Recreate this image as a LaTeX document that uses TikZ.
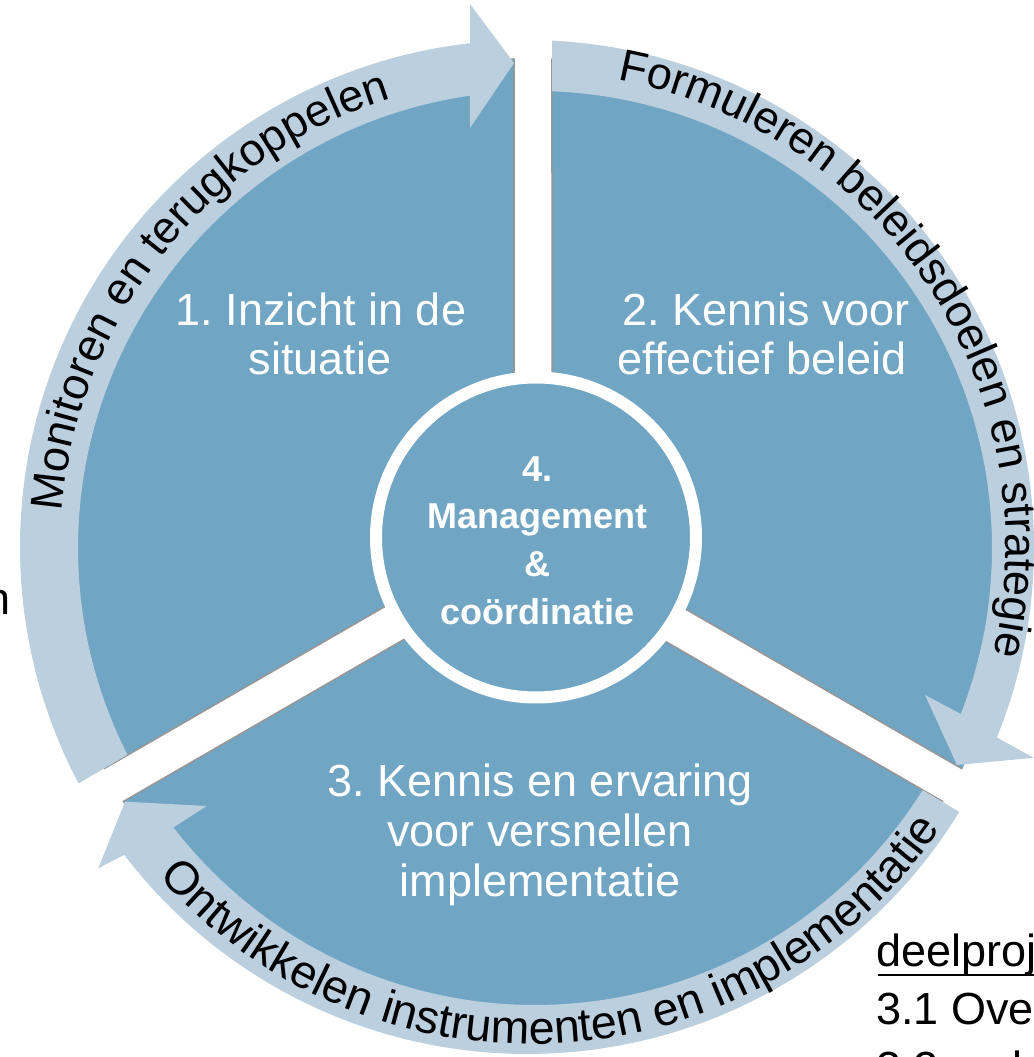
\documentclass[tikz,border=0pt]{standalone}
\usepackage{fontspec}
\setmainfont{Liberation Sans}
\usetikzlibrary{calc,decorations.text}
\definecolor{secblue}{RGB}{113,165,196}
\definecolor{bandblue}{RGB}{188,207,223}
\definecolor{edgegray}{RGB}{150,150,150}
\newcommand{\arcfont}{\fontsize{45}{54}\selectfont}
\newcommand{\arcfontb}{\fontsize{46.5}{54}\selectfont}
\frenchspacing
\begin{document}
\begin{tikzpicture}[x=1pt,y=1pt,
  sector/.style={fill=secblue},
  band/.style={fill=bandblue},
  secedge/.style={draw=edgegray,line width=1.5pt},
  seclabel/.style={text=white,font=\fontsize{45}{50}\selectfont,inner sep=0pt,anchor=base},
  midlabel/.style={text=white,font=\bfseries\fontsize{36}{44}\selectfont,inner sep=0pt,anchor=base},
  sidetext/.style={text=black,font=\fontsize{45}{54}\selectfont,inner sep=0pt},
  arctext/.style={decorate,decoration={text along path,text align=center,text={|\arcfont|#1}}},
  arctextb/.style={decorate,decoration={text along path,text align=center,text={|\arcfontb|#1}}}
]
\useasboundingbox (0,0) rectangle (1033,1057);
\begin{scope}[shift={(0,1057)}]
\coordinate (C) at (533,-543);
\coordinate (Ci) at (535,-548);
\coordinate (Co) at (527,-547);
\coordinate (Cm) at (531,-547);
\coordinate (Cc) at (536,-537.5);
% sectors
\fill[sector] ($(C)+(150:21.94)$) coordinate (A1) -- ($(C)+(92.245:485)$) coordinate (P1a)
  arc[start angle=92.245,end angle=207.755,radius=485] coordinate (P1b) -- cycle;
\fill[sector] ($(C)+(30:21.94)$) coordinate (A2) -- ($(C)+(87.755:485)$) coordinate (P2a)
  arc[start angle=87.755,end angle=-27.755,radius=485] coordinate (P2b) -- cycle;
\fill[sector] ($(C)+(270:21.94)$) coordinate (A3) -- ($(C)+(212.245:485)$) coordinate (P3a)
  arc[start angle=212.245,end angle=327.755,radius=485] coordinate (P3b) -- cycle;
\draw[secedge] (P1a) -- (A1) -- (P1b);
\draw[secedge] (P2a) -- (A2) -- (P2b);
\draw[secedge] (P3a) -- (A3) -- (P3b);
% bands with arrowheads
\fill[band] ($(Co)+(207.8:507)$) arc[start angle=207.8,end angle=96.45,radius=507]
  -- (470,-4) -- (514,-63) -- (470,-128)
  -- ($(Ci)+(98.18:457)$) arc[start angle=98.18,end angle=206.9,radius=457] -- cycle;
\fill[band] ($(Co)+(87.17:507)$) arc[start angle=87.17,end angle=-22.06,radius=507]
  -- (1033.6,-757.8) -- (957,-765) -- (925,-695)
  -- ($(Ci)+(-21.3:457)$) arc[start angle=-21.3,end angle=87.87,radius=457] -- cycle;
\fill[band] ($(Co)+(328.5:507)$) arc[start angle=328.5,end angle=217.4,radius=507]
  -- (98.3,-868.3) -- (125,-801.7) -- (206.7,-806)
  -- ($(Ci)+(217.7:457)$) arc[start angle=217.7,end angle=328,radius=457] -- cycle;
% arc texts
\path[arctext={Monitoren en terugkoppelen}] ($(Cm)+(185:470)$) arc[start angle=185,end angle=98,radius=470];
\path[arctext={Formuleren beleidsdoelen en strategie}] ($(Cm)+(83:475)$) arc[start angle=83,end angle=-16.6,radius=475];
\path[arctextb={Ontwikkelen instrumenten en implementatie}] ($(Cm)+(213:497)$) arc[start angle=213,end angle=334,radius=497];
% center circle
\node[circle,fill=secblue,draw=white,line width=12pt,minimum size=320pt,inner sep=0pt] (mid) at (Cc) {};
% labels
\node[seclabel] (s1a) at (321,-326) {1. Inzicht in de};
\node[seclabel] (s1b) at (320,-375) {situatie};
\node[seclabel] (s2a) at (766,-326) {2. Kennis voor};
\node[seclabel] (s2b) at (762,-375) {effectief beleid};
\node[seclabel] (s3a) at (540,-797) {3. Kennis en ervaring};
\node[seclabel] (s3b) at (540,-847) {voor versnellen};
\node[seclabel] (s3c) at (540,-897) {implementatie};
\node[midlabel] (m1) at (537.5,-481.7) {4.};
\node[midlabel] (m2) at (537.5,-529) {Management};
\node[midlabel] (m3) at (537.5,-576.7) {\&};
\node[midlabel] (m4) at (537.5,-625) {coördinatie};
% partial side texts
\node[sidetext,anchor=base east] (cutn) at (11,-615) {n};
\node[sidetext,anchor=base west] (deel) at (876.5,-967) {deelproj};
\draw[line width=2.5pt] ($(deel.base west)+(1.5,-8)$) -- ($(deel.base east)+(0,-8)$);
\node[sidetext,anchor=base west] (d31) at (876,-1025) {3.1 Ove};
\node[sidetext,anchor=base west] (d32) at (876,-1083) {3.2\hspace{73.4pt}l};
\end{scope}
\end{tikzpicture}
\end{document}
